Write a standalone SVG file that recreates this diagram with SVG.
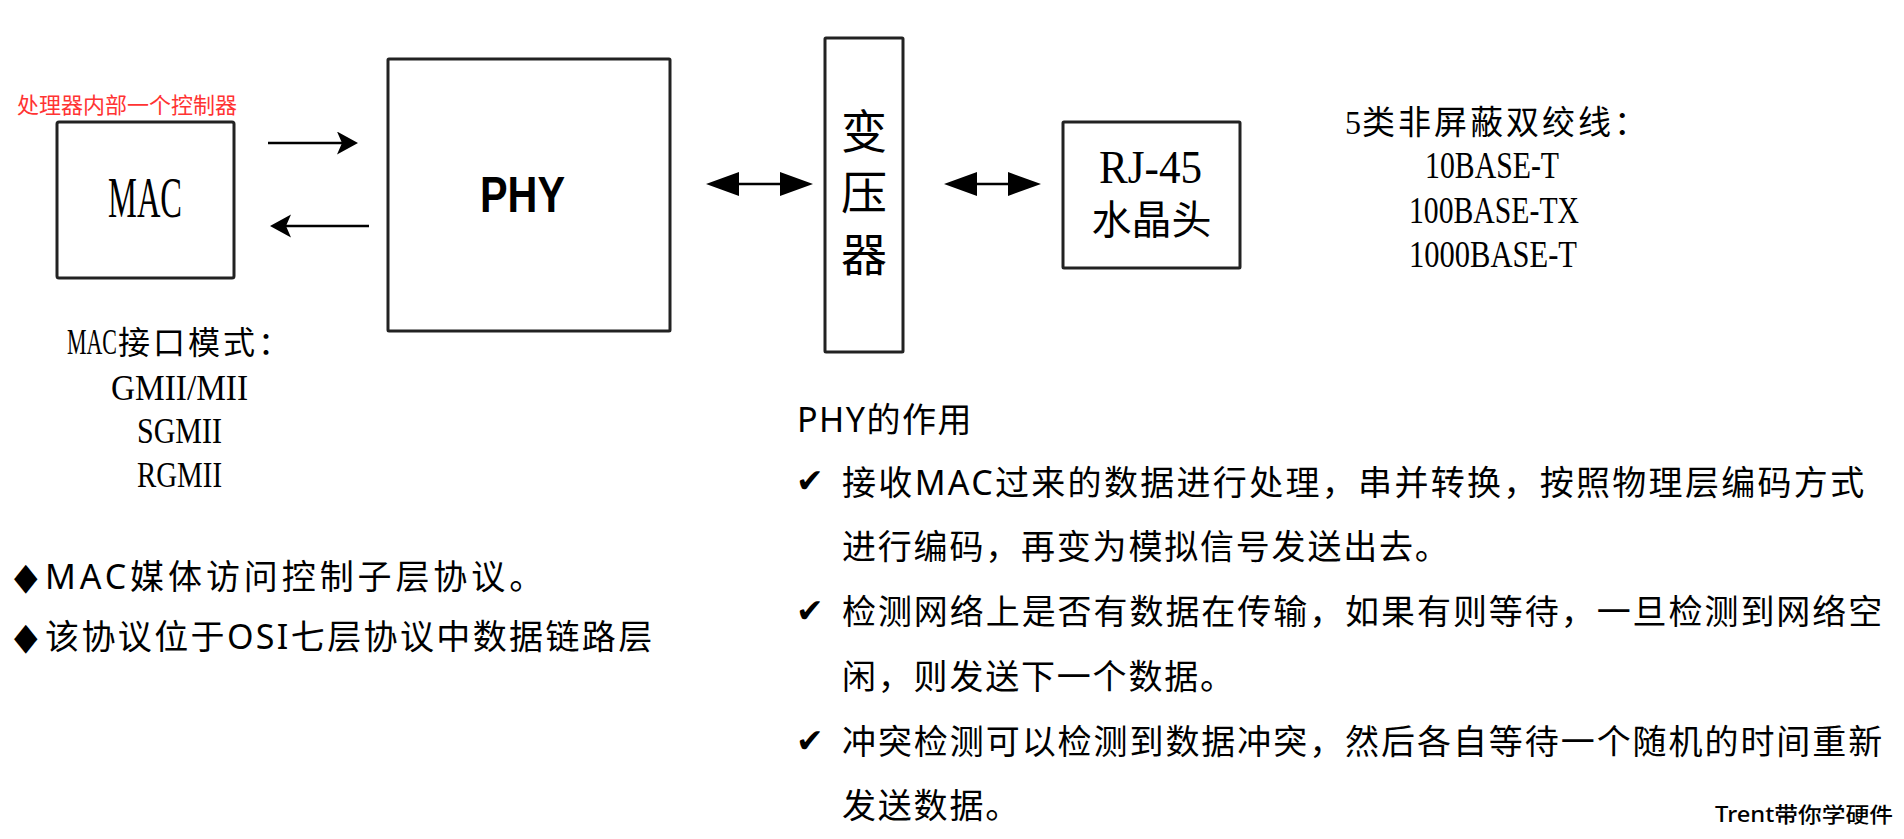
<svg xmlns="http://www.w3.org/2000/svg" width="1904" height="839" viewBox="0 0 1904 839">
<style>
.box{fill:#fff;stroke:#222;stroke-width:3}
.serif{font-family:'Liberation Serif','Noto Sans CJK SC',serif;fill:#000}
.cjk{font-family:'Noto Sans CJK SC',sans-serif;fill:#000}
.sans{font-family:'Noto Sans','Noto Sans CJK SC',sans-serif;fill:#000}
.sym{font-family:'DejaVu Sans',sans-serif;fill:#000}
.conn{stroke:#000;stroke-width:2.5;fill:none}
.body{font-size:34px;letter-spacing:1.8px}
</style>
<defs>
<marker id="dbl" markerUnits="userSpaceOnUse" markerWidth="34" markerHeight="24" refX="23" refY="12" orient="auto-start-reverse">
<path d="M0,0 L33,12 L0,24 Z" fill="#000"/>
</marker>
<marker id="sgl" markerUnits="userSpaceOnUse" markerWidth="22" markerHeight="24" refX="13" refY="11.5" orient="auto">
<path d="M0,0 L21,11.5 L0,23 L5,11.5 Z" fill="#000"/>
</marker>
</defs>
<rect width="1904" height="839" fill="#fff"/>

<g id="mac">
<text class="cjk" x="17" y="113" font-size="22" style="fill:#f33">处理器内部一个控制器</text>
<rect class="box" x="57" y="122" width="177" height="156" rx="2"/>
<text class="serif" x="108" y="217" font-size="56" textLength="74" lengthAdjust="spacingAndGlyphs">MAC</text>
</g>

<g id="phy">
<rect class="box" x="388" y="59" width="282" height="272" rx="1"/>
<text x="480" y="212" font-family="'Liberation Sans',sans-serif" font-weight="bold" font-size="50" textLength="85" lengthAdjust="spacingAndGlyphs">PHY</text>
</g>

<g id="transformer">
<rect class="box" x="825" y="38" width="78" height="314" rx="1"/>
<text class="cjk" x="864" y="148" font-size="46" text-anchor="middle">变</text>
<text class="cjk" x="864" y="209" font-size="46" text-anchor="middle">压</text>
<text class="cjk" x="864" y="271" font-size="46" text-anchor="middle">器</text>
</g>

<g id="rj45">
<rect class="box" x="1063" y="122" width="177" height="146" rx="1"/>
<text class="serif" x="1099" y="183" font-size="46" textLength="103" lengthAdjust="spacingAndGlyphs">RJ-45</text>
<text class="cjk" x="1151.5" y="234" font-size="40" text-anchor="middle">水晶头</text>
</g>

<g id="cable-note">
<text class="serif" y="134"><tspan x="1345" font-size="34" textLength="16" lengthAdjust="spacingAndGlyphs">5</tspan><tspan x="1362" class="cjk" font-size="33" letter-spacing="3">类非屏蔽双绞线：</tspan></text>
<text class="serif" x="1425" y="178" font-size="37" textLength="134" lengthAdjust="spacingAndGlyphs">10BASE-T</text>
<text class="serif" x="1409" y="223" font-size="37" textLength="170" lengthAdjust="spacingAndGlyphs">100BASE-TX</text>
<text class="serif" x="1409" y="267" font-size="37" textLength="168" lengthAdjust="spacingAndGlyphs">1000BASE-T</text>
</g>

<g id="mac-modes">
<text class="serif" y="354"><tspan x="67" font-size="36" textLength="50" lengthAdjust="spacingAndGlyphs">MAC</tspan><tspan x="118" class="cjk" font-size="32" letter-spacing="3">接口模式：</tspan></text>
<text class="serif" x="111" y="400" font-size="36" textLength="137" lengthAdjust="spacingAndGlyphs">GMII/MII</text>
<text class="serif" x="137" y="443" font-size="36" textLength="85" lengthAdjust="spacingAndGlyphs">SGMII</text>
<text class="serif" x="137" y="487" font-size="36" textLength="85" lengthAdjust="spacingAndGlyphs">RGMII</text>
</g>

<g id="mac-notes">
<text class="sym" font-size="36" transform="translate(14,589) scale(0.85,1.05)">◆</text>
<text class="sans body" x="45" y="589" textLength="500" lengthAdjust="spacing">MAC媒体访问控制子层协议。</text>
<text class="sym" font-size="36" transform="translate(14,649) scale(0.85,1.05)">◆</text>
<text class="sans body" x="45" y="649" textLength="609" lengthAdjust="spacing">该协议位于OSI七层协议中数据链路层</text>
</g>

<g id="phy-notes">
<text class="sans" x="797" y="432" font-size="34" letter-spacing="1.5">PHY的作用</text>
<text class="sym" x="796" y="492" font-size="33">✔</text>
<text class="sans body" x="842" y="495" textLength="1024" lengthAdjust="spacing">接收MAC过来的数据进行处理，串并转换，按照物理层编码方式</text>
<text class="sans body" x="842" y="559">进行编码，再变为模拟信号发送出去。</text>
<text class="sym" x="796" y="622" font-size="33">✔</text>
<text class="sans body" x="842" y="624" textLength="1042" lengthAdjust="spacing">检测网络上是否有数据在传输，如果有则等待，一旦检测到网络空</text>
<text class="sans body" x="842" y="689">闲，则发送下一个数据。</text>
<text class="sym" x="796" y="752" font-size="33">✔</text>
<text class="sans body" x="842" y="754" textLength="1042" lengthAdjust="spacing">冲突检测可以检测到数据冲突，然后各自等待一个随机的时间重新</text>
<text class="sans body" x="842" y="818">发送数据。</text>
</g>

<g id="watermark">
<text class="sans" x="1715" y="822" font-size="21" font-weight="500" textLength="178" lengthAdjust="spacingAndGlyphs">Trent带你学硬件</text>
</g>

<g id="connectors">
<line class="conn" x1="268" y1="143" x2="350" y2="143" marker-end="url(#sgl)"/>
<line class="conn" x1="369" y1="226" x2="278" y2="226" marker-end="url(#sgl)"/>
<line class="conn" x1="716" y1="184" x2="803" y2="184" marker-start="url(#dbl)" marker-end="url(#dbl)"/>
<line class="conn" x1="954" y1="184" x2="1031" y2="184" marker-start="url(#dbl)" marker-end="url(#dbl)"/>
</g>
</svg>
